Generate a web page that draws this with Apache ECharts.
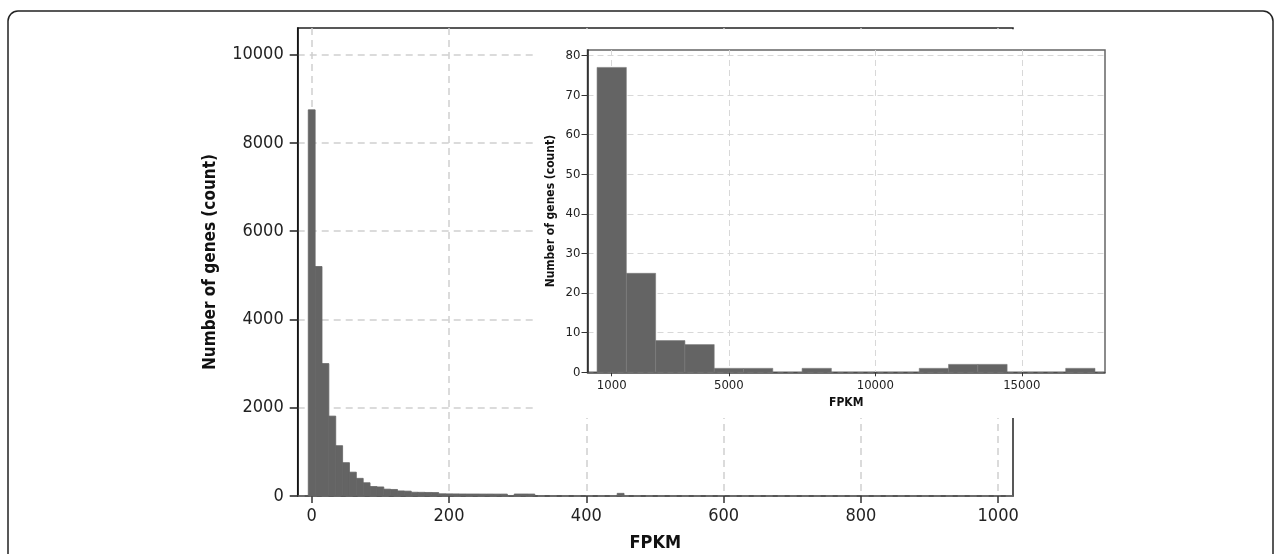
<!DOCTYPE html>
<html><head><meta charset="utf-8">
<script src="https://cdn.jsdelivr.net/npm/echarts@6/dist/echarts.min.js"></script>
<style>html,body{margin:0;padding:0;background:#fff}#c{width:1281px;height:554px}</style>
</head><body><div id="c"></div>
<script>
// ---- main histogram (FPKM 0-1000, bin width 10) ----
const mainBinWidth = 10;
const mainBinCenters = [0,10,20,30,40,50,60,70,80,90,100,110,120,130,140,150,160,170,180,190,200,210,220,230,240,250,260,270,280,290,300,310,320,330,340,350,360,370,380,390,400,410,420,430,440,450];
const mainCounts = [8750,5200,3000,1810,1140,755,540,400,300,215,205,155,148,115,110,85,83,80,78,50,48,47,46,45,45,44,44,43,43,12,45,45,44,0,0,0,0,0,0,0,0,0,0,0,0,60];
const mainXTicks = [0,200,400,600,800,1000];
const mainYTicks = [0,2000,4000,6000,8000,10000];
// ---- inset histogram (FPKM > 500, bin width 1000) ----
const insetBinWidth = 1000;
const insetBinCenters = [1000,2000,3000,4000,5000,6000,7000,8000,9000,10000,11000,12000,13000,14000,15000,16000,17000];
const insetCounts = [77,25,8,7,1,1,0,1,0,0,0,1,2,2,0,0,1];
const insetXTicks = [1000,5000,10000,15000];
const insetYTicks = [0,10,20,30,40,50,60,70,80];

const FONT = "'DejaVu Sans Condensed','DejaVu Sans',sans-serif";
const BAR = '#646464';
const plain = v => String(v);

function histRender(binW, seam) {
  return function (params, api) {
    const c = api.value(0), v = api.value(1);
    if (!v) return null;
    const p0 = api.coord([c - binW / 2, v]);
    const p1 = api.coord([c + binW / 2, 0]);
    return {
      type: 'rect',
      shape: { x: p0[0], y: p0[1], width: p1[0] - p0[0], height: p1[1] - p0[1] },
      style: seam ? { fill: BAR, stroke: BAR, lineWidth: 0.8 } : { fill: BAR, stroke: '#7a7a7a', lineWidth: 0.6 }
    };
  };
}

const chart = echarts.init(document.getElementById('c'), null, { renderer: 'canvas' });
chart.setOption({
  animation: false,
  backgroundColor: '#fff',
  textStyle: { fontFamily: FONT },
  grid: [
    { left: 297.7, right: 268, top: 28, bottom: 58, outerBoundsMode: 'none', containLabel: false, show: true, borderColor: '#222', borderWidth: 1.5, z: 0 },
    { left: 587.5, right: 176, top: 50, bottom: 181.7, outerBoundsMode: 'none', containLabel: false, show: true, borderColor: '#666', borderWidth: 1.5, backgroundColor: '#fff', z: 20 }
  ],
  xAxis: [
    {
      gridIndex: 0, type: 'value', min: -20.4, max: 1021.6, z: 0,
      name: 'FPKM', nameLocation: 'middle', nameGap: 38,
      nameTextStyle: { fontFamily: FONT, fontWeight: 'bold', fontSize: 18, color: '#111' },
      axisLine: { show: true, onZero: false, lineStyle: { color: '#555', width: 1.5 } },
      axisTick: { show: true, length: 7, customValues: mainXTicks, lineStyle: { color: '#333', width: 1.5 } },
      axisLabel: { customValues: mainXTicks, formatter: plain, margin: 11, fontSize: 18, color: '#222', fontFamily: FONT },
      splitLine: { show: true, lineStyle: { color: '#d0d0d0', width: 1.5, type: [7, 5] } }
    },
    {
      gridIndex: 1, type: 'value', min: 174, max: 17842, z: 20,
      name: 'FPKM', nameLocation: 'middle', nameGap: 25,
      nameTextStyle: { fontFamily: FONT, fontWeight: 'bold', fontSize: 12, color: '#111' },
      axisLine: { show: true, onZero: false, lineStyle: { color: '#444', width: 1.5 } },
      axisTick: { show: true, length: 4, customValues: insetXTicks, lineStyle: { color: '#333' } },
      axisLabel: { customValues: insetXTicks, formatter: plain, margin: 7, fontSize: 13, color: '#222', fontFamily: FONT },
      splitLine: { show: true, lineStyle: { color: '#d8d8d8', width: 1, type: [6, 4] } }
    }
  ],
  yAxis: [
    {
      gridIndex: 0, type: 'value', min: 0, max: 10605, z: 0,
      name: 'Number of genes (count)', nameLocation: 'middle', nameGap: 79,
      nameTextStyle: { fontFamily: FONT, fontWeight: 'bold', fontSize: 17, color: '#111' },
      axisLine: { show: true, onZero: false, lineStyle: { color: '#111', width: 1.5 } },
      axisTick: { show: true, length: 8, customValues: mainYTicks, lineStyle: { color: '#222', width: 1.5 } },
      axisLabel: { customValues: mainYTicks, formatter: plain, margin: 14, fontSize: 18, color: '#222', fontFamily: FONT },
      splitLine: { show: true, lineStyle: { color: '#d0d0d0', width: 1.5, type: [7, 5] } }
    },
    {
      gridIndex: 1, type: 'value', min: 0, max: 81.4, z: 20,
      name: 'Number of genes (count)', nameLocation: 'middle', nameGap: 31,
      nameTextStyle: { fontFamily: FONT, fontWeight: 'bold', fontSize: 12, color: '#111' },
      axisLine: { show: true, onZero: false, lineStyle: { color: '#222', width: 1.5 } },
      axisTick: { show: true, length: 6, customValues: insetYTicks, lineStyle: { color: '#333' } },
      axisLabel: { customValues: insetYTicks, formatter: plain, margin: 7, fontSize: 13, color: '#222', fontFamily: FONT },
      splitLine: { show: true, lineStyle: { color: '#d8d8d8', width: 1, type: [6, 4] } }
    }
  ],
  graphic: {
    elements: [
      { type: 'rect', z: 10, silent: true, shape: { x: 533, y: 29.2, width: 592, height: 388.8 }, style: { fill: '#fff' } },
      { type: 'rect', z: 100, silent: true, shape: { x: 8, y: 11, width: 1265, height: 620, r: 10 }, style: { fill: 'none', stroke: '#222', lineWidth: 1.5 } }
    ]
  },
  series: [
    {
      type: 'custom', xAxisIndex: 0, yAxisIndex: 0, z: 2,
      renderItem: histRender(mainBinWidth, true),
      data: mainBinCenters.map((c, i) => [c, mainCounts[i]])
    },
    {
      type: 'custom', xAxisIndex: 1, yAxisIndex: 1, z: 22,
      renderItem: histRender(insetBinWidth, false),
      data: insetBinCenters.map((c, i) => [c, insetCounts[i]])
    }
  ]
});
</script>
</body></html>
